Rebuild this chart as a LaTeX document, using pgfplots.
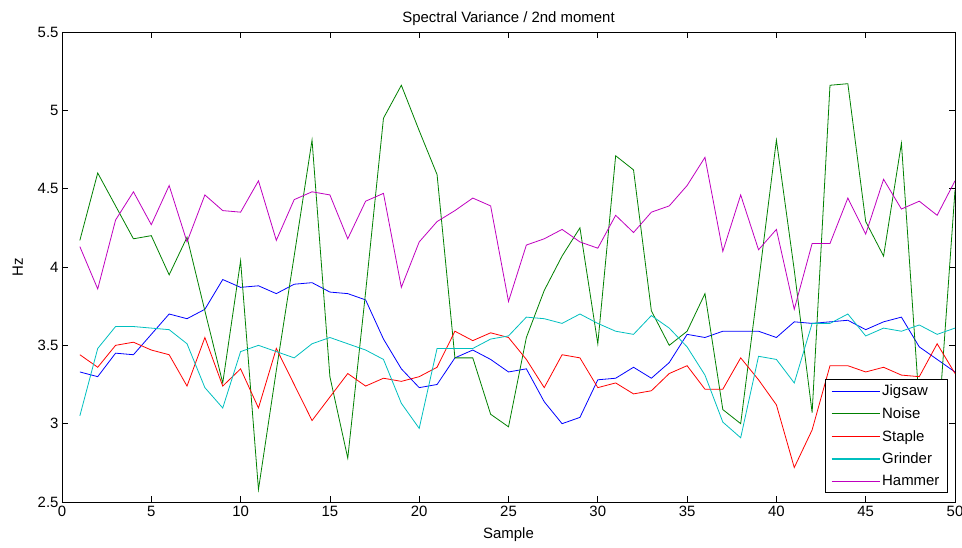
\documentclass[border=0pt]{standalone}
\usepackage{pgfplots}
\pgfplotsset{compat=1.18}
\usepackage{pgfplotstable}
\usepackage{fontspec}
\setmainfont{Liberation Sans}
\definecolor{mblue}{rgb}{0,0,1}
\definecolor{mgreen}{rgb}{0,0.5,0}
\definecolor{mred}{rgb}{1,0,0}
\definecolor{mcyan}{rgb}{0,0.75,0.75}
\definecolor{mmag}{rgb}{0.75,0,0.75}
\pgfplotstableread{
x jig noise staple grind hammer
1 3.33 4.17 3.44 3.05 4.13
2 3.30 4.60 3.36 3.48 3.86
3 3.45 4.39 3.50 3.62 4.30
4 3.44 4.18 3.52 3.62 4.48
5 3.57 4.20 3.47 3.61 4.27
6 3.70 3.95 3.44 3.60 4.52
7 3.67 4.19 3.24 3.51 4.16
8 3.73 3.72 3.55 3.23 4.46
9 3.92 3.26 3.24 3.10 4.36
10 3.87 4.04 3.35 3.46 4.35
11 3.88 2.58 3.10 3.50 4.55
12 3.83 3.34 3.48 3.46 4.17
13 3.89 4.07 3.25 3.42 4.43
14 3.90 4.81 3.02 3.51 4.48
15 3.84 3.30 3.17 3.55 4.46
16 3.83 2.78 3.32 3.51 4.18
17 3.79 3.84 3.24 3.47 4.42
18 3.54 4.95 3.29 3.41 4.47
19 3.35 5.16 3.27 3.13 3.87
20 3.23 4.87 3.30 2.97 4.16
21 3.25 4.59 3.36 3.48 4.29
22 3.42 3.42 3.59 3.48 4.36
23 3.47 3.42 3.53 3.48 4.44
24 3.41 3.06 3.58 3.54 4.39
25 3.33 2.98 3.55 3.56 3.78
26 3.35 3.55 3.41 3.68 4.14
27 3.14 3.85 3.23 3.67 4.18
28 3.00 4.07 3.44 3.64 4.24
29 3.04 4.25 3.42 3.70 4.16
30 3.28 3.51 3.23 3.64 4.12
31 3.29 4.71 3.26 3.59 4.33
32 3.36 4.62 3.19 3.57 4.22
33 3.29 3.72 3.21 3.69 4.35
34 3.39 3.50 3.32 3.61 4.39
35 3.57 3.59 3.37 3.49 4.52
36 3.55 3.83 3.22 3.31 4.70
37 3.59 3.09 3.22 3.01 4.10
38 3.59 3.00 3.42 2.91 4.46
39 3.59 3.90 3.28 3.43 4.11
40 3.55 4.81 3.12 3.41 4.24
41 3.65 3.98 2.72 3.26 3.73
42 3.64 3.07 2.96 3.64 4.15
43 3.65 5.16 3.37 3.64 4.15
44 3.66 5.17 3.37 3.70 4.44
45 3.60 4.29 3.33 3.56 4.21
46 3.65 4.07 3.36 3.61 4.56
47 3.68 4.79 3.31 3.59 4.37
48 3.49 3.12 3.30 3.63 4.42
49 3.41 2.88 3.51 3.57 4.33
50 3.33 4.49 3.32 3.61 4.55
}\datatable
\newcommand{\fs}{\fontsize{15}{17}\selectfont}
\begin{document}
\begin{tikzpicture}
\path[use as bounding box] (-62bp,-46bp) rectangle (900bp,502bp);
\begin{axis}[
  scale only axis,
  width=893bp, height=470bp,
  xmin=0, xmax=50, ymin=2.5, ymax=5.5,
  xtick={0,5,...,50},
  ytick={2.5,3,3.5,4,4.5,5,5.5},
  yticklabels={2.5,3,3.5,4,4.5,5,5.5},
  tick align=inside,
  major tick length=6bp,
  axis line style={line width=0.8bp},
  every tick/.style={black,line width=0.8bp},
  /pgf/number format/assume math mode=true,
  tick label style={font=\fs},
  xticklabel style={yshift=-1bp},
  xlabel={Sample}, ylabel={Hz},
  label style={font=\fs},
  xlabel style={yshift=-4bp},
  ylabel style={yshift=8bp},
  title={Spectral Variance / 2nd moment},
  title style={font=\fs, yshift=-3bp},
  legend style={at={(axis description cs:0.992,0.019)}, anchor=south east,
    font=\fs, line width=0.8bp,
    inner xsep=6bp, inner ysep=3.5bp, row sep=6.3bp,
    /tikz/every even column/.append style={column sep=2bp}},
  legend cell align=left,
  legend image code/.code={\draw[mark repeat=2,mark phase=2,#1,line width=1.1bp] plot coordinates {(0bp,0bp) (24bp,0bp) (48bp,0bp)};},
  every axis plot/.append style={line width=0.8bp},
]
\addplot[color=mblue] table[x=x,y=jig] {\datatable};
\addplot[color=mgreen] table[x=x,y=noise] {\datatable};
\addplot[color=mred] table[x=x,y=staple] {\datatable};
\addplot[color=mcyan] table[x=x,y=grind] {\datatable};
\addplot[color=mmag] table[x=x,y=hammer] {\datatable};
\legend{Jigsaw,Noise,Staple,Grinder,Hammer}
\node[anchor=south west, inner sep=0pt, font=\fontsize{14}{16}\selectfont] at (axis description cs:0,1.012) {x 10\textsuperscript{6}};
\end{axis}
\end{tikzpicture}
\end{document}
